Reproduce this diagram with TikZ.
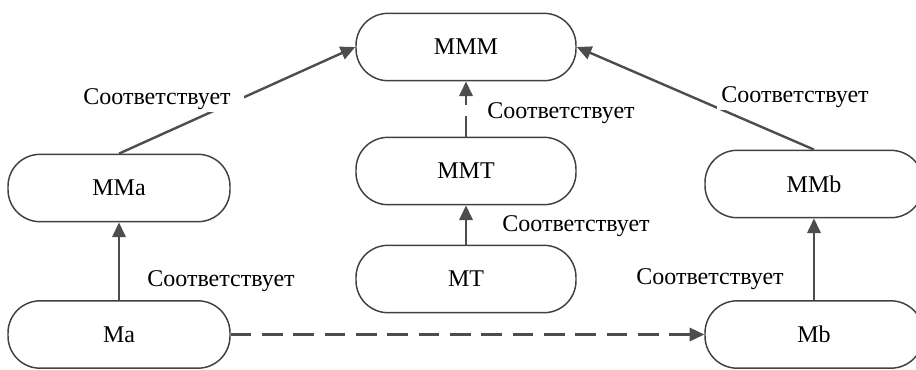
\documentclass[tikz,border=0pt]{standalone}
\usepackage{fontspec}
\setmainfont{Liberation Serif}
\usetikzlibrary{arrows.meta}
\definecolor{edgegray}{HTML}{4D4D4D}
\definecolor{boxgray}{HTML}{404040}
\tikzset{
  model/.style={draw=boxgray, line width=1.1pt, rounded corners=24pt,
    minimum height=50.5pt, inner sep=0pt, font=\fontsize{18}{21}\selectfont},
  link/.style={draw=edgegray, line width=1.8pt,
    -{Triangle[length=11pt,width=10pt]}},
  dashlink/.style={link, dash pattern=on 15.5pt off 8pt},
  tag/.style={font=\fontsize{18}{21}\selectfont, inner ysep=2pt, inner xsep=6pt},
}
\begin{document}
\begin{tikzpicture}[x=0.75pt,y=-0.75pt]
  \useasboundingbox (0,0) rectangle (916,369);

  % model boxes
  \node[model, minimum width=165pt] (mmm) at (466,47)  {MMM};
  \node[model, minimum width=166.5pt] (mma) at (119,188) {MMa};
  \node[model, minimum width=165pt] (mmt) at (466,171) {MMT};
  \node[model, minimum width=165pt] (mt)  at (466,279) {MT};
  \node[model, minimum width=166.5pt] (ma)  at (119,334.5) {Ma};
  \node[model, minimum width=163.5pt] (mmb) at (814,184) {MMb};
  \node[model, minimum width=163.5pt] (mb)  at (814,334.5) {Mb};

  % correspondence links
  \draw[link] (mma.north) -- (mmm.west);
  \draw[link] (mmb.north) -- (mmm.east);
  \draw[dashlink] (mmt.north) -- (mmm.south);
  \draw[link] (mt.north) -- (mmt.south);
  \draw[link] (ma.north) -- (mma.south);
  \draw[link] (mb.north) -- (mmb.south);
  \draw[dashlink] (ma.east) -- (mb.west);

  % labels
  \node[tag, fill=white, inner xsep=10pt] (t1) at (157,99) {Соответствует};
  \node[tag, fill=white, inner xsep=3pt] (t2) at (795,97) {Соответствует};
  \node[tag] (t3) at (561,113) {Соответствует};
  \node[tag] (t4) at (576,226) {Соответствует};
  \node[tag] (t5) at (221,281) {Соответствует};
  \node[tag] (t6) at (710,279) {Соответствует};
\end{tikzpicture}
\end{document}
